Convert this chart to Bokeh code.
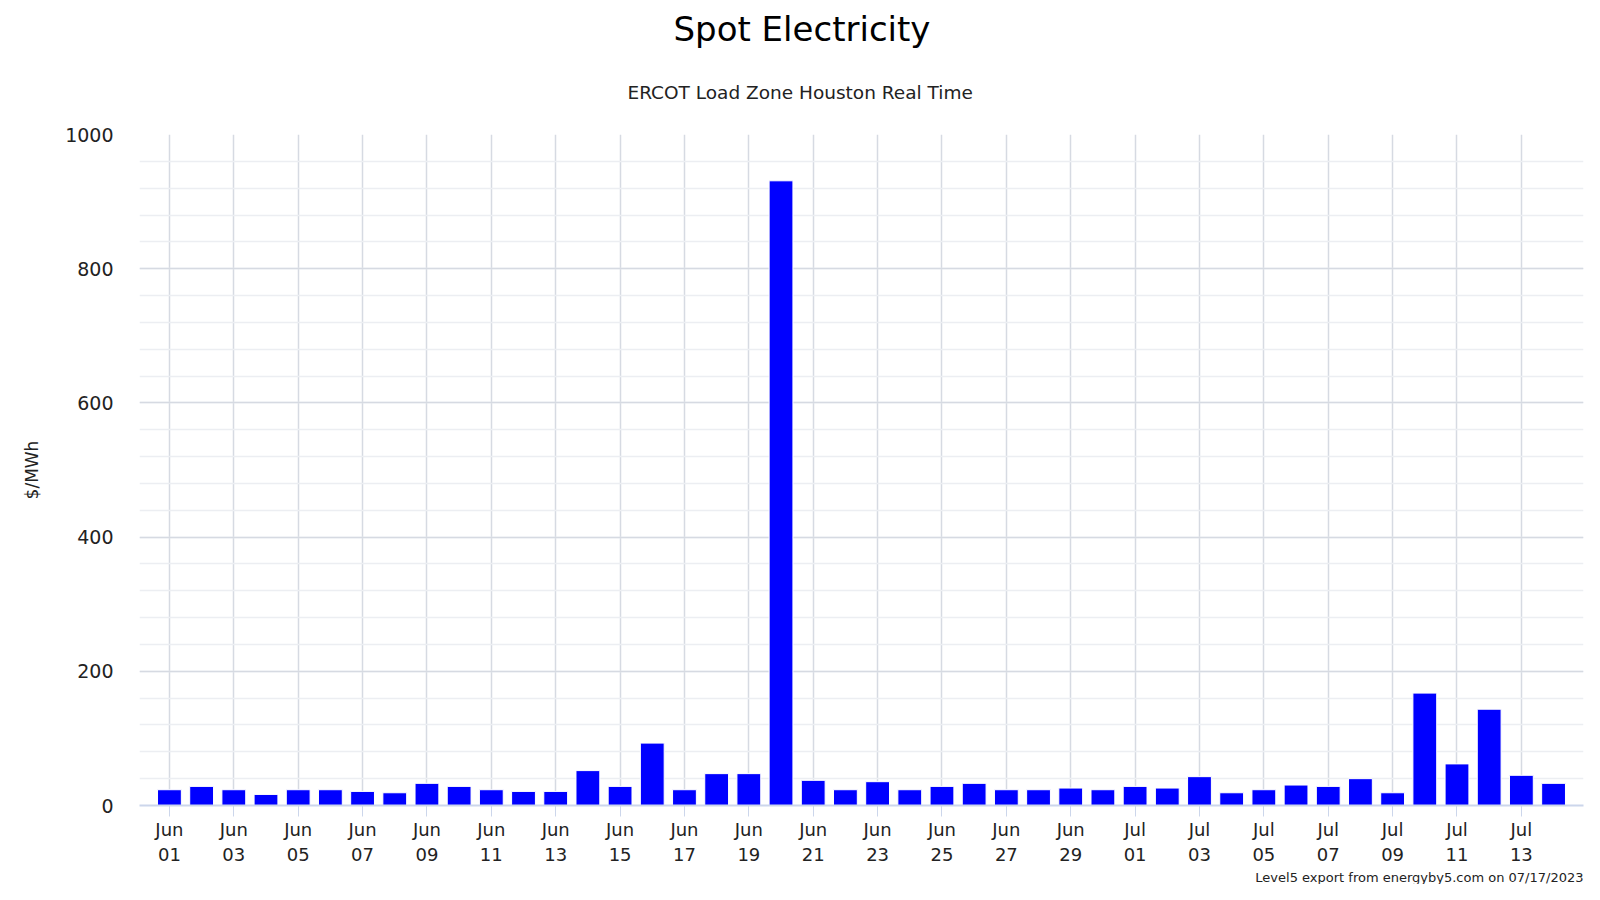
from bokeh.plotting import figure
from bokeh.models import (ColumnDataSource, Range1d, FixedTicker, SingleIntervalTicker,
                          Title)
from bokeh.embed import file_html
from bokeh.resources import INLINE
import pandas as pd

FONT = "DejaVu Sans"

# daily average spot price, $/MWh (Jun 01 .. Jul 14, 2023)
dates = pd.date_range("2023-06-01", "2023-07-14", freq="D")
prices = [23.5, 28.5, 23.5, 16.5, 23.5, 23.5, 21, 19, 33, 28.5,
          23.5, 21, 21, 52, 28.5, 93, 23.5, 47.5, 47.5, 931,
          37.5, 23.5, 35.5, 23.5, 28.5, 33, 23.5, 23.5, 26, 23.5,
          28.5, 26, 43, 19, 23.5, 30.5, 28.5, 40, 19, 167.5,
          62, 143.5, 45, 33]

idx = list(range(len(dates)))
tick_idx = idx[::2]
tick_labels = {i: dates[i].strftime("%b\n%d") for i in tick_idx}

src = ColumnDataSource(data=dict(x=idx, price=prices))

p = figure(width=1584, height=884, output_backend="svg", toolbar_location=None,
           x_range=Range1d(-0.93, 43.93), y_range=Range1d(0, 1000),
           min_border_left=139, min_border_right=1, min_border_top=134,
           min_border_bottom=77)
p.outline_line_color = None

# titles: left-aligned with an offset so they sit centred on the whole page
p.title.text = "Spot Electricity"
p.title.text_font = FONT
p.title.text_font_size = "34px"
p.title.text_font_style = "normal"
p.title.align = "left"
p.title.offset = 534
p.title.standoff = 0
p.title.text_color = "#000000"

sub = Title(text="ERCOT Load Zone Houston Real Time", align="left", offset=488,
            text_font=FONT, text_font_size="18.5px", text_font_style="normal",
            text_color="#222222", standoff=63)
p.add_layout(sub, "above")

credit = Title(text="Level5 export from energyby5.com on 07/17/2023", align="right",
               offset=0, standoff=0, text_font=FONT, text_font_size="13px",
               text_font_style="normal", text_color="#222222")
p.add_layout(credit, "below")

p.vbar(x="x", top="price", width=0.74, bottom=0, source=src,
       fill_color="#0000ff", line_color="white", line_width=1)

# y axis
p.yaxis.ticker = SingleIntervalTicker(interval=200, num_minor_ticks=5)
p.yaxis.axis_line_color = None
p.yaxis.major_tick_line_color = None
p.yaxis.major_tick_out = 0
p.yaxis.major_tick_in = 0
p.yaxis.minor_tick_line_color = None
p.yaxis.minor_tick_out = 0
p.yaxis.major_label_text_font = FONT
p.yaxis.major_label_text_font_size = "19px"
p.yaxis.major_label_text_color = "#222222"
p.yaxis.major_label_standoff = 26
p.yaxis.axis_label = "$/MWh"
p.yaxis.axis_label_text_font = FONT
p.yaxis.axis_label_text_font_size = "17px"
p.yaxis.axis_label_text_font_style = "normal"
p.yaxis.axis_label_text_color = "#222222"
p.yaxis.axis_label_standoff = 20

# x axis
p.xaxis.ticker = FixedTicker(ticks=tick_idx)
p.xaxis.major_label_overrides = tick_labels
p.xaxis.axis_line_color = "#ccd6eb"
p.xaxis.axis_line_width = 2
p.xaxis.major_tick_line_color = "#ccd6eb"
p.xaxis.major_tick_in = 0
p.xaxis.major_tick_out = 11
p.xaxis.minor_tick_line_color = None
p.xaxis.major_label_text_font = FONT
p.xaxis.major_label_text_font_size = "18px"
p.xaxis.major_label_text_color = "#222222"
p.xaxis.major_label_standoff = 2

# grids
p.ygrid.grid_line_color = "#d6dae2"
p.ygrid.grid_line_width = 1.5
p.ygrid.minor_grid_line_color = "#eceef2"
p.ygrid.minor_grid_line_width = 1.5
p.xgrid.grid_line_color = "#d6dae2"
p.xgrid.grid_line_width = 1.5

open("out.html", "w").write(file_html(p, INLINE))
